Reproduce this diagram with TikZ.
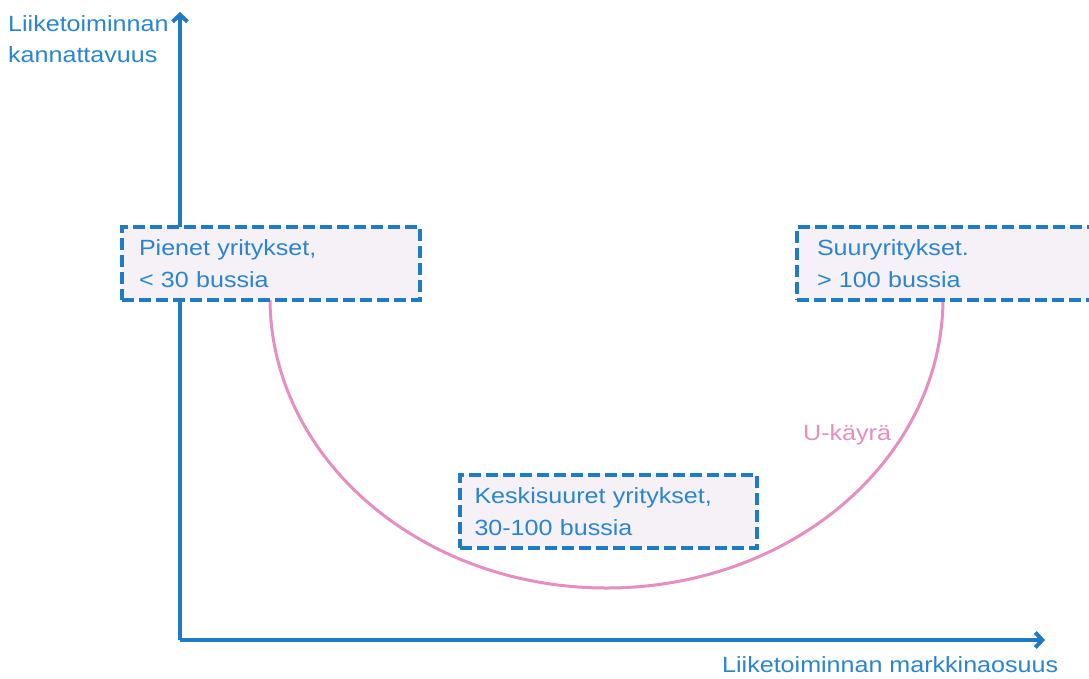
\documentclass[tikz,border=0pt]{standalone}
\usepackage{fontspec}
\setmainfont{Liberation Sans}[FakeStretch=1.14]
\usetikzlibrary{arrows.meta}
\definecolor{axblue}{HTML}{1F7BC6}
\definecolor{txblue}{HTML}{2A85D0}
\definecolor{upink}{HTML}{E68DC2}
\definecolor{boxfill}{HTML}{F6F0F7}
\tikzset{
  axis/.style={draw=axblue, line width=4pt, -{Straight Barb[length=7pt,width=15pt,line width=4pt]}},
  lbl/.style={text=txblue, font=\fontsize{22}{31}\selectfont, inner sep=0pt, align=left},
  dbox/.style={draw=axblue, fill=boxfill, line width=4pt, dash pattern=on 12pt off 5pt,
    anchor=north west, minimum height=73pt, inner xsep=17pt, inner ysep=0pt,
    text=txblue, font=\fontsize{22}{32}\selectfont, align=left},
  ucurve/.style={draw=upink, line width=3pt}
}
\begin{document}
\begin{tikzpicture}[x=1pt,y=-1pt]
\useasboundingbox[fill=white] (0,0) rectangle (1089,678);
\coordinate (o) at (180,640);
\coordinate (ytip) at (180,12);
\coordinate (xtip) at (1045,640);
\draw[axis] (o) -- (ytip);
\draw[axis] (o) -- (xtip);
\node[lbl, anchor=base west] (ylab) at (8,62) {Liiketoiminnan\\kannattavuus};
\node[lbl, anchor=base west] (xlab) at (722,672) {Liiketoiminnan markkinaosuus};
\coordinate (ul) at (270,298);
\draw[ucurve] (ul) arc[start angle=180, end angle=0, x radius=336.5, y radius=290] coordinate (ur);
\node[text=upink, font=\fontsize{22}{32}\selectfont, inner sep=0pt, anchor=base west] (ulab) at (803,440) {U-käyrä};
\node[dbox, minimum width=298pt, text width=264pt] (small) at (120,225) {Pienet yritykset,\\< 30 bussia};
\node[dbox, minimum width=310pt, text width=270pt, inner xsep=14pt] (large) at (795,225) {Suuryritykset.\\> 100 bussia};
\node[dbox, minimum width=297pt, text width=268pt, inner xsep=14pt] (mid) at (458,473) {Keskisuuret yritykset,\\30-100 bussia};
\end{tikzpicture}
\end{document}
